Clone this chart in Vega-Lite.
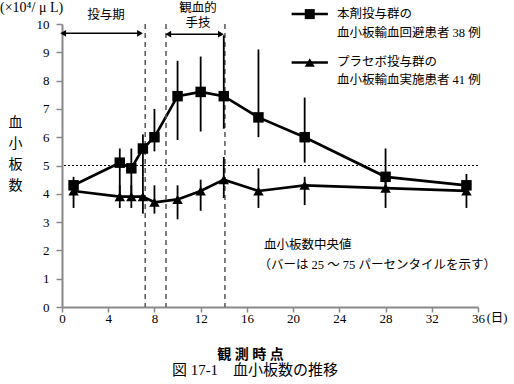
{
  "$schema": "https://vega.github.io/schema/vega-lite/v6.json",
  "width": 416,
  "height": 283,
  "autosize": "none",
  "padding": {"left": 62, "top": 24, "right": 36, "bottom": 77},
  "background": "white",
  "config": {
    "font": "Liberation Serif, Noto Sans CJK JP",
    "view": {"stroke": null},
    "axisY": {"labelOverlap": false, "tickCount": 11, "labelFontSize": 13, "labelColor": "black"},
    "axisX": {"labelOverlap": false, "labelFontSize": 13, "labelColor": "black"}
  },
  "title": {
    "text": "図 17-1　血小板数の推移",
    "orient": "bottom",
    "anchor": "middle",
    "frame": "group",
    "dx": -15,
    "offset": 2,
    "fontSize": 15,
    "fontWeight": "normal",
    "color": "black"
  },
  "datasets": {
    "series": [
      {"day": 1, "group": "本剤投与群", "median": 4.3, "lo": 4.1, "hi": 4.6},
      {"day": 5, "group": "本剤投与群", "median": 5.1, "lo": 3.9, "hi": 5.6},
      {"day": 6, "group": "本剤投与群", "median": 4.9, "lo": 3.9, "hi": 5.6},
      {"day": 7, "group": "本剤投与群", "median": 5.6, "lo": 4.6, "hi": 6.1},
      {"day": 8, "group": "本剤投与群", "median": 6.0, "lo": 5.5, "hi": 7.0},
      {"day": 10, "group": "本剤投与群", "median": 7.45, "lo": 5.9, "hi": 8.7},
      {"day": 12, "group": "本剤投与群", "median": 7.6, "lo": 6.2, "hi": 8.85},
      {"day": 14, "group": "本剤投与群", "median": 7.45, "lo": 6.3, "hi": 9.6},
      {"day": 17, "group": "本剤投与群", "median": 6.7, "lo": 6.0, "hi": 9.1},
      {"day": 21, "group": "本剤投与群", "median": 6.0, "lo": 5.1, "hi": 7.4},
      {"day": 28, "group": "本剤投与群", "median": 4.6, "lo": 4.2, "hi": 5.6},
      {"day": 35, "group": "本剤投与群", "median": 4.3, "lo": 4.1, "hi": 4.7},
      {"day": 1, "group": "プラセボ投与群", "median": 4.1, "lo": 3.5, "hi": 4.3},
      {"day": 5, "group": "プラセボ投与群", "median": 3.9, "lo": 3.5, "hi": 4.3},
      {"day": 6, "group": "プラセボ投与群", "median": 3.9, "lo": 3.5, "hi": 4.3},
      {"day": 7, "group": "プラセボ投与群", "median": 3.9, "lo": 3.3, "hi": 4.6},
      {"day": 8, "group": "プラセボ投与群", "median": 3.7, "lo": 3.3, "hi": 4.3},
      {"day": 10, "group": "プラセボ投与群", "median": 3.8, "lo": 3.1, "hi": 4.3},
      {"day": 12, "group": "プラセボ投与群", "median": 4.1, "lo": 3.4, "hi": 4.5},
      {"day": 14, "group": "プラセボ投与群", "median": 4.5, "lo": 3.85, "hi": 5.3},
      {"day": 17, "group": "プラセボ投与群", "median": 4.1, "lo": 3.5, "hi": 4.9},
      {"day": 21, "group": "プラセボ投与群", "median": 4.3, "lo": 3.6, "hi": 4.6},
      {"day": 28, "group": "プラセボ投与群", "median": 4.2, "lo": 3.5, "hi": 4.6},
      {"day": 35, "group": "プラセボ投与群", "median": 4.1, "lo": 3.5, "hi": 4.3}
    ],
    "vlines": [{"x": 7.2}, {"x": 9.0}, {"x": 14.1}],
    "hline": [{"y": 5}],
    "arrows": [
      {"x1": 0.1, "x2": 6.75, "y": 9.67},
      {"x1": 9.2, "x2": 13.75, "y": 9.64}
    ],
    "legendRows": [
      {"group": "本剤投与群", "x1": 19.87, "x2": 23.01, "xc": 21.44, "y": 10.35},
      {"group": "プラセボ投与群", "x1": 19.87, "x2": 23.01, "xc": 21.44, "y": 8.64}
    ],
    "unitNote": [
      {"text": "(×10⁴/ μ L)", "x": -5.36, "y": 10.57}
    ],
    "notesLeft": [
      {"text": "本剤投与群の", "x": 23.79, "y": 10.35},
      {"text": "血小板輸血回避患者 38 例", "x": 23.79, "y": 9.68},
      {"text": "プラセボ投与群の", "x": 23.79, "y": 8.66},
      {"text": "血小板輸血実施患者 41 例", "x": 23.79, "y": 8.02},
      {"text": "血小板数中央値", "x": 17.47, "y": 2.19},
      {"text": "（バーは 25 ～ 75 パーセンタイルを示す）", "x": 17.0, "y": 1.48},
      {"text": "(日)", "x": 36.75, "y": -0.38}
    ],
    "notesCenter": [
      {"text": "投与期", "x": 3.8, "y": 10.32},
      {"text": "観血的", "x": 11.76, "y": 10.57},
      {"text": "手技", "x": 11.76, "y": 10.04}
    ]
  },
  "layer": [
    {
      "data": {"name": "series"},
      "mark": {"type": "line", "color": "black", "strokeWidth": 2.7},
      "encoding": {
        "x": {
          "field": "day", "type": "quantitative",
          "scale": {"domain": [0, 36], "nice": false},
          "axis": {
            "values": [0, 4, 8, 12, 16, 20, 24, 28, 32, 36],
            "title": "観 測 時 点",
            "titleFontSize": 14,
            "titleFontWeight": "bold",
            "titleColor": "black",
            "titleX": 188,
            "titlePadding": 22,
            "labelPadding": 0,
            "tickSize": 5,
            "domainColor": "#888888",
            "domainWidth": 2,
            "tickColor": "#888888",
            "tickWidth": 1.5,
            "grid": false,
            "labelFlush": false
          }
        },
        "y": {
          "field": "median", "type": "quantitative",
          "scale": {"domain": [0, 10], "nice": false},
          "axis": {
            "values": [0, 1, 2, 3, 4, 5, 6, 7, 8, 9, 10],
            "title": ["血", "小", "板", "数"],
            "titleAngle": 0,
            "titleFontSize": 14,
            "titleFontWeight": "normal",
            "titleColor": "black",
            "titleX": -47,
            "titleY": 98,
            "titleAlign": "center",
            "titleBaseline": "middle",
            "titleLineHeight": 21,
            "labelPadding": 7,
            "tickSize": 6,
            "domainColor": "#888888",
            "domainWidth": 2,
            "tickColor": "#888888",
            "tickWidth": 1.5,
            "grid": false
          }
        },
        "detail": {"field": "group"}
      }
    },
    {
      "data": {"name": "vlines"},
      "mark": {"type": "rule", "strokeDash": [5, 4], "color": "#555555", "strokeWidth": 1.5},
      "encoding": {
        "x": {"field": "x", "type": "quantitative"}
      }
    },
    {
      "data": {"name": "hline"},
      "mark": {"type": "rule", "strokeDash": [2, 2], "color": "black", "strokeWidth": 1},
      "encoding": {
        "y": {"field": "y", "type": "quantitative"}
      }
    },
    {
      "data": {"name": "series"},
      "mark": {"type": "rule", "color": "black", "strokeWidth": 1.8},
      "encoding": {
        "x": {"field": "day", "type": "quantitative"},
        "y": {"field": "lo", "type": "quantitative"},
        "y2": {"field": "hi"}
      }
    },
    {
      "data": {"name": "series"},
      "mark": {"type": "point", "filled": true, "color": "black", "opacity": 1, "size": 110},
      "encoding": {
        "x": {"field": "day", "type": "quantitative"},
        "y": {"field": "median", "type": "quantitative"},
        "shape": {
          "field": "group", "type": "nominal",
          "scale": {"domain": ["本剤投与群", "プラセボ投与群"], "range": ["square", "triangle-up"]},
          "legend": null
        }
      }
    },
    {
      "data": {"name": "legendRows"},
      "mark": {"type": "rule", "color": "black", "strokeWidth": 2.5},
      "encoding": {
        "x": {"field": "x1", "type": "quantitative"},
        "x2": {"field": "x2"},
        "y": {"field": "y", "type": "quantitative"}
      }
    },
    {
      "data": {"name": "legendRows"},
      "mark": {"type": "point", "filled": true, "color": "black", "opacity": 1, "size": 100},
      "encoding": {
        "x": {"field": "xc", "type": "quantitative"},
        "y": {"field": "y", "type": "quantitative"},
        "shape": {"field": "group", "type": "nominal", "legend": null}
      }
    },
    {
      "data": {"name": "arrows"},
      "mark": {"type": "rule", "color": "black", "strokeWidth": 1.5},
      "encoding": {
        "x": {"field": "x1", "type": "quantitative"},
        "x2": {"field": "x2"},
        "y": {"field": "y", "type": "quantitative"}
      }
    },
    {
      "data": {"name": "arrows"},
      "mark": {"type": "point", "shape": "triangle-left", "filled": true, "color": "black", "opacity": 1, "size": 45},
      "encoding": {
        "x": {"field": "x1", "type": "quantitative"},
        "y": {"field": "y", "type": "quantitative"}
      }
    },
    {
      "data": {"name": "arrows"},
      "mark": {"type": "point", "shape": "triangle-right", "filled": true, "color": "black", "opacity": 1, "size": 45},
      "encoding": {
        "x": {"field": "x2", "type": "quantitative"},
        "y": {"field": "y", "type": "quantitative"}
      }
    },
    {
      "data": {"name": "unitNote"},
      "mark": {"type": "text", "fontSize": 14, "color": "black", "baseline": "middle", "align": "left"},
      "encoding": {
        "x": {"field": "x", "type": "quantitative"},
        "y": {"field": "y", "type": "quantitative"},
        "text": {"field": "text"}
      }
    },
    {
      "data": {"name": "notesLeft"},
      "mark": {"type": "text", "fontSize": 12.5, "color": "black", "baseline": "middle", "align": "left"},
      "encoding": {
        "x": {"field": "x", "type": "quantitative"},
        "y": {"field": "y", "type": "quantitative"},
        "text": {"field": "text"}
      }
    },
    {
      "data": {"name": "notesCenter"},
      "mark": {"type": "text", "fontSize": 12.5, "color": "black", "baseline": "middle", "align": "center"},
      "encoding": {
        "x": {"field": "x", "type": "quantitative"},
        "y": {"field": "y", "type": "quantitative"},
        "text": {"field": "text"}
      }
    }
  ]
}
